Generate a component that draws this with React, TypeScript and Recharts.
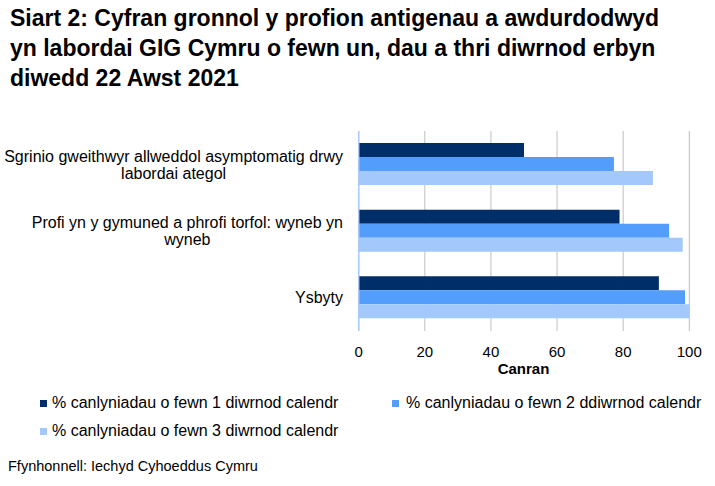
import React from 'react';
import { BarChart, Bar, XAxis, YAxis, CartesianGrid } from 'recharts';

const titleLines = [
  'Siart 2: Cyfran gronnol y profion antigenau a awdurdodwyd',
  'yn labordai GIG Cymru o fewn un, dau a thri diwrnod erbyn',
  'diwedd 22 Awst 2021',
];

const categories = [
  'Sgrinio gweithwyr allweddol asymptomatig drwy labordai ategol',
  'Profi yn y gymuned a phrofi torfol: wyneb yn wyneb',
  'Ysbyty',
];

const withinOneDay = [50.0, 78.9, 90.8];
const withinTwoDays = [77.2, 93.9, 98.7];
const withinThreeDays = [89.0, 98.0, 100];

const seriesNames = [
  '% canlyniadau o fewn 1 diwrnod calendr',
  '% canlyniadau o fewn 2 ddiwrnod calendr',
  '% canlyniadau o fewn 3 diwrnod calendr',
];

const xTicks = [0, 20, 40, 60, 80, 100];
const axisTitle = 'Canran';
const sourceNote = 'Ffynhonnell: Iechyd Cyhoeddus Cymru';

const COLORS = ['#002E69', '#539DFC', '#A2C8FC'];
const FONT = '"Liberation Sans", Arial, Helvetica, sans-serif';

const rows = categories.map((name, i) => ({
  name,
  d1: withinOneDay[i],
  d2: withinTwoDays[i],
  d3: withinThreeDays[i],
}));

let ctx: CanvasRenderingContext2D | null = null;
function textWidth(s: string, font: string) {
  if (!ctx) ctx = document.createElement('canvas').getContext('2d');
  if (!ctx) return s.length * 8;
  ctx.font = font;
  return ctx.measureText(s).width;
}

// Greedy word wrap so long category names break like the original
function wrap(label: string, maxW: number, font: string) {
  const words = label.split(' ');
  const lines: string[] = [];
  let cur = '';
  for (const w of words) {
    const next = cur ? cur + ' ' + w : w;
    if (cur && textWidth(next, font) > maxW) {
      lines.push(cur);
      cur = w;
    } else {
      cur = next;
    }
  }
  if (cur) lines.push(cur);
  return lines;
}

function CategoryTick(props: any) {
  const { x, y, payload } = props;
  const font = `16px ${FONT}`;
  const lines = wrap(String(payload.value), 345, font);
  const widest = Math.max(...lines.map((l) => textWidth(l, font)));
  const cx = x - widest / 2;
  const lh = 17;
  const y0 = y - ((lines.length - 1) * lh) / 2;
  return (
    <text textAnchor="middle" fontSize={16} fontFamily={FONT} fill="#000">
      {lines.map((l, i) => (
        <tspan key={i} x={cx} y={y0 + i * lh} dy="0.36em">
          {l}
        </tspan>
      ))}
    </text>
  );
}

const legendPos = [
  { sq: 40, tx: 52, y: 403 },
  { sq: 391.7, tx: 406, y: 403 },
  { sq: 40, tx: 52, y: 431 },
];

export default function App() {
  return (
    <div
      style={{
        position: 'absolute',
        left: 0,
        top: 0,
        width: 715,
        height: 486,
        background: '#fff',
        fontFamily: FONT,
        color: '#000',
        overflow: 'hidden',
      }}
    >
      <div style={{ position: 'absolute', left: 10, top: 3, fontSize: 23, fontWeight: 'bold', lineHeight: '30px' }}>
        {titleLines.map((t) => (
          <div key={t} style={{ whiteSpace: 'nowrap' }}>
            {t}
          </div>
        ))}
      </div>

      <div style={{ position: 'absolute', left: 0, top: 0 }}>
        <BarChart
          width={715}
          height={486}
          data={rows}
          layout="vertical"
          margin={{ top: 131, right: 25.7, left: 8.7, bottom: 115 }}
          barGap={0}
          barSize={14}
        >
          <CartesianGrid horizontal={false} stroke="#BFBFBF" strokeWidth={1} />
          <XAxis
            type="number"
            domain={[0, 100]}
            ticks={xTicks}
            axisLine={false}
            tickLine={false}
            tickSize={0}
            tickMargin={15.3}
            height={40}
            tick={{ fontSize: 15, fill: '#000', fontFamily: FONT }}
          />
          <YAxis
            type="category"
            dataKey="name"
            width={350}
            axisLine={{ stroke: '#A9CBF5', strokeWidth: 1.5 }}
            tickLine={false}
            tickSize={0}
            tickMargin={15.7}
            tick={<CategoryTick />}
            interval={0}
          />
          <Bar dataKey="d1" name={seriesNames[0]} fill={COLORS[0]} isAnimationActive={false} />
          <Bar dataKey="d2" name={seriesNames[1]} fill={COLORS[1]} isAnimationActive={false} />
          <Bar dataKey="d3" name={seriesNames[2]} fill={COLORS[2]} isAnimationActive={false} />
        </BarChart>
      </div>

      <div
        style={{
          position: 'absolute',
          left: 523.5,
          top: 368,
          transform: 'translate(-50%, -50%)',
          fontSize: 15,
          fontWeight: 'bold',
          whiteSpace: 'nowrap',
        }}
      >
        {axisTitle}
      </div>

      {seriesNames.map((n, i) => (
        <React.Fragment key={n}>
          <div
            style={{
              position: 'absolute',
              left: legendPos[i].sq,
              top: legendPos[i].y - 3.5,
              width: 7,
              height: 7,
              background: COLORS[i],
            }}
          />
          <div
            style={{
              position: 'absolute',
              left: legendPos[i].tx,
              top: legendPos[i].y - 10,
              height: 20,
              lineHeight: '20px',
              fontSize: 16,
              whiteSpace: 'nowrap',
            }}
          >
            {n}
          </div>
        </React.Fragment>
      ))}

      <div
        style={{
          position: 'absolute',
          left: 8,
          top: 466 - 9,
          lineHeight: '18px',
          fontSize: 14.5,
          whiteSpace: 'nowrap',
        }}
      >
        {sourceNote}
      </div>
    </div>
  );
}
